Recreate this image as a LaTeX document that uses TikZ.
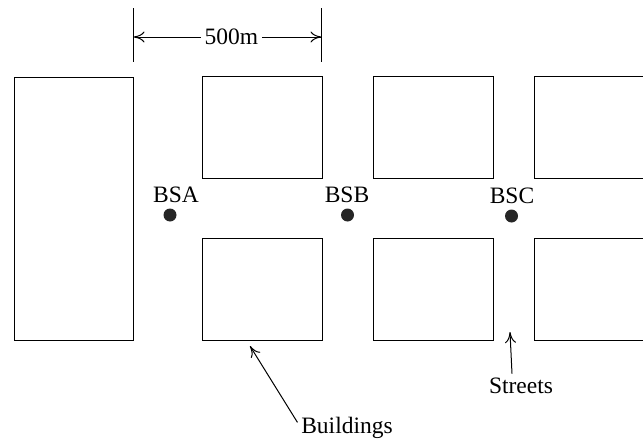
\documentclass[tikz,border=0pt]{standalone}
\usepackage{fontspec}
\setmainfont{Liberation Serif}
\usetikzlibrary{arrows.meta, positioning}

\begin{document}
\begin{tikzpicture}[
    x=1pt, y=-1pt,
    line width=1pt,
    font=\fontsize{23.5}{28}\selectfont,
    block/.style={rectangle, draw, minimum width=120pt, minimum height=102pt, inner sep=0pt},
    bs/.style={circle, fill=black!85, minimum size=13pt, inner sep=0pt},
    bslabel/.style={anchor=base},
    arrow/.style={-{To[length=11pt, width=11pt]}},
]
    \useasboundingbox (0,0) rectangle (643,439);
    \clip (0,0) rectangle (643,439);

    \node[block, minimum width=119pt, minimum height=263pt] (west) at (73.5,208.5) {};
    \node[block] (a1) at (262,127) {};
    \node[block] (a2) at (262,289) {};
    \node[block] (b1) at (433,127) {};
    \node[block] (b2) at (433,289) {};
    \node[block] (c1) at (594,127) {};
    \node[block] (c2) at (594,289) {};

    \coordinate (dimL) at (133.5,37);
    \coordinate (dimR) at (321.5,37);
    \draw (133.5,8) -- (133.5,62);
    \draw (321.5,8) -- (321.5,62);
    \node (dist) at (231.5,37) {500m};
    \draw[arrow] (dist.west) -- (dimL);
    \draw[arrow] (dist.east) -- (dimR);

    \node[bs] (bsa) at (170,215) {};
    \node[bs] (bsb) at (347.5,215) {};
    \node[bs] (bsc) at (511.5,216) {};
    \node[bslabel] (lbla) at (176,202) {BSA};
    \node[bslabel] (lblb) at (347,202) {BSB};
    \node[bslabel] (lblc) at (512,203.5) {BSC};

    \node[anchor=base] (bld) at (347,433) {Buildings};
    \node[anchor=base] (str) at (521,393) {Streets};
    \coordinate (bldtip) at (250,346);
    \coordinate (strtip) at (510,332);
    \draw[arrow] ([yshift=5pt]bld.west) -- (bldtip);
    \draw[arrow] ([xshift=-9pt]str.north) -- (strtip);
\end{tikzpicture}
\end{document}
